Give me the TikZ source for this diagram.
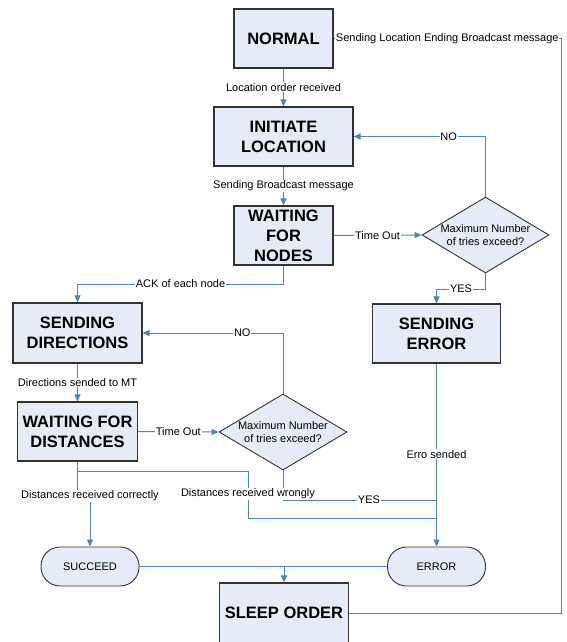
\documentclass[tikz,border=0pt]{standalone}
\usepackage{fontspec}
\setmainfont{Liberation Sans}
\usetikzlibrary{shapes.geometric,arrows.meta}
\definecolor{boxfill}{RGB}{229,236,247}
\definecolor{conn}{RGB}{79,129,189}
\definecolor{bord}{RGB}{50,50,50}
\tikzset{
  stbox/.style={rectangle, draw=bord, line width=1.1pt, fill=boxfill, inner sep=0pt,
    align=center, font=\fontsize{16.5}{20}\selectfont\bfseries},
  dia/.style={diamond, draw=bord, line width=0.9pt, fill=boxfill, inner sep=0pt,
    minimum width=127pt, minimum height=76pt},
  term/.style={rectangle, rounded corners=19pt, draw=bord, line width=0.9pt, fill=boxfill,
    inner sep=0pt, minimum width=98pt, minimum height=39pt, font=\fontsize{11}{13.6}\selectfont},
  lbl/.style={fill=white, inner sep=0.8pt, align=center, font=\fontsize{11}{13.6}\selectfont},
  dlbl/.style={inner sep=0pt, align=center, font=\fontsize{11}{13.6}\selectfont},
  conn/.style={draw=conn, line width=1pt},
  arr/.style={conn, -{Triangle[length=7pt,width=6pt]}},
}
\begin{document}
\begin{tikzpicture}[x=1pt,y=-1pt]
\useasboundingbox (0,0) rectangle (567,642);
\clip (0,0) rectangle (567,642);
\fill[white] (0,0) rectangle (567,642);
% nodes
\node[stbox, minimum width=99pt, minimum height=59pt] (normal) at (283.5,38.5) {NORMAL};
\node[stbox, minimum width=139pt, minimum height=59pt] (init) at (283.5,136.5) {INITIATE\\LOCATION};
\node[stbox, minimum width=99pt, minimum height=59pt] (wfn) at (283.5,235.5) {WAITING\\FOR\\NODES};
\node[dia, label={[dlbl]center:Maximum Number\\of tries exceed?}] (d1) at (485.5,235) {};
\node[stbox, minimum width=128pt, minimum height=59pt] (serr) at (436.5,333.5) {SENDING\\ERROR};
\node[stbox, minimum width=129pt, minimum height=60pt] (sdir) at (77.5,333) {SENDING\\DIRECTIONS};
\node[stbox, minimum width=120pt, minimum height=59pt] (wfd) at (77.5,431.5) {WAITING FOR\\DISTANCES};
\node[dia, minimum width=128pt, label={[dlbl]center:Maximum Number\\of tries exceed?}] (d2) at (283,432) {};
\node[term] (succ) at (90,566.5) {SUCCEED};
\node[term] (err) at (436.5,566.5) {ERROR};
\node[stbox, minimum width=128.5pt, minimum height=60pt] (sleep) at (284,613) {SLEEP ORDER};
% coordinates
\coordinate (c1) at (485.5,289);
\coordinate (c2) at (283.5,284);
\coordinate (c3) at (77.5,496);
\coordinate (c4) at (90,496);
\coordinate (c5) at (77.5,471);
\coordinate (c6) at (248,471);
\coordinate (c7) at (248,518);
\coordinate (c8) at (436.5,518);
\coordinate (c9) at (436.5,500);
\coordinate (c10) at (561,613);
\coordinate (c11) at (284,566.5);
% connectors
\draw[arr] (normal.south) -- node[lbl, pos=0.49]{Location order received} (init.north);
\draw[arr] (init.south) -- node[lbl, pos=0.5]{Sending Broadcast message} (wfn.north);
\draw[arr] (wfn.east) -- node[lbl, pos=0.5]{Time Out} (d1.west);
\draw[arr] (d1.north) |- node[lbl, pos=0.64]{NO} (init.east);
\draw[arr] (d1.south) -- (c1) -| node[lbl, pos=0.25]{YES} (serr.north);
\draw[arr] (wfn.south) -- (c2) -| node[lbl, pos=0.25]{ACK of each node} (sdir.north);
\draw[arr] (sdir.south) -- node[lbl, pos=0.5]{Directions sended to MT} (wfd.north);
\draw[arr] (wfd.east) -- node[lbl, pos=0.5]{Time Out} (d2.west);
\draw[arr] (d2.north) |- node[lbl, pos=0.645]{NO} (sdir.east);
\draw[conn] (d2.south) |- node[lbl, pos=0.78]{YES} (c9);
\draw[conn] (c5) -- (c6) -- (c7) -- (c8);
\draw[arr] (wfd.south) -- (c3) -- (c4) -- (succ.north);
\node[lbl] (lcor) at (90,496) {Distances received correctly};
\node[lbl] (lwro) at (248,494) {Distances received wrongly};
\draw[arr] (serr.south) -- node[lbl, pos=0.495]{Erro sended} (err.north);
\draw[conn] (succ.east) -- (err.west);
\draw[arr] (c11) -- (sleep.north);
\draw[arr] (sleep.east) -- (c10) |- node[lbl, pos=0.75]{Sending Location Ending Broadcast message} (normal.east);
\end{tikzpicture}
\end{document}
